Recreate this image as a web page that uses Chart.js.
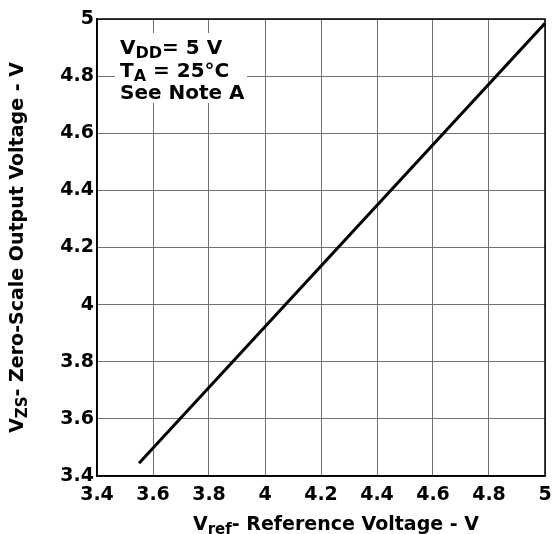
<!DOCTYPE html>
<html>
<head>
<meta charset="utf-8">
<script src="https://cdn.jsdelivr.net/npm/chart.js@4"></script>
<style>
  html, body { margin: 0; padding: 0; background: #fff; }
  #wrap { width: 557px; height: 534px; }
</style>
</head>
<body>
<div id="wrap"><canvas id="chart" width="557" height="534"></canvas></div>
<script>
// data
const vRef = [3.55, 5.0];
const vZS = [3.445, 4.985];
const tickVals = [3.4, 3.6, 3.8, 4, 4.2, 4.4, 4.6, 4.8, 5];

const FONT = "'DejaVu Sans', sans-serif";

// draw a row of [text, isSub] pieces starting at x
function drawPieces(ctx, pieces, x, y, size, subSize) {
  pieces.forEach(p => {
    ctx.font = `bold ${p[1] ? subSize : size}px ${FONT}`;
    ctx.fillText(p[0], x, y + (p[1] ? 4 : 0));
    x += ctx.measureText(p[0]).width;
  });
  return x;
}
function piecesWidth(ctx, pieces, size, subSize) {
  let w = 0;
  pieces.forEach(p => {
    ctx.font = `bold ${p[1] ? subSize : size}px ${FONT}`;
    w += ctx.measureText(p[0]).width;
  });
  return w;
}

const xTitle = [["V", 0], ["ref", 1], ["- Reference Voltage - V", 0]];
const yTitle = [["V", 0], ["ZS", 1], ["- Zero-Scale Output Voltage - V", 0]];
const note = [
  [["V", 0], ["DD", 1], ["= 5 V", 0]],
  [["T", 0], ["A", 1], [" = 25°C", 0]],
  [["See Note A", 0]]
];

const textPlugin = {
  id: "texts",
  afterDraw(chart) {
    const ctx = chart.ctx;
    const a = chart.chartArea;
    ctx.save();
    ctx.fillStyle = "#000";
    ctx.textBaseline = "alphabetic";
    ctx.textAlign = "left";

    // note box
    ctx.fillStyle = "#fff";
    ctx.fillRect(a.left + 18, a.top + 14, 132, 70);
    ctx.fillStyle = "#000";
    note.forEach((row, i) => {
      drawPieces(ctx, row, a.left + 23, a.top + 35 + i * 22.5, 20, 16);
    });

    // x title
    let w = piecesWidth(ctx, xTitle, 19, 15);
    drawPieces(ctx, xTitle, 336 - w / 2, 530, 19, 15);

    // y title
    w = piecesWidth(ctx, yTitle, 19, 15);
    ctx.translate(23, (a.top + a.bottom) / 2);
    ctx.rotate(-Math.PI / 2);
    drawPieces(ctx, yTitle, -w / 2, 0, 19, 15);
    ctx.restore();
  }
};

new Chart(document.getElementById("chart"), {
  type: "scatter",
  data: {
    datasets: [{
      data: vRef.map((x, i) => ({ x, y: vZS[i] })),
      showLine: true,
      borderColor: "#000",
      borderWidth: 3,
      pointRadius: 0
    }]
  },
  options: {
    responsive: false,
    animation: false,
    layout: { padding: { top: 19, right: 12, left: 0, bottom: 0 } },
    plugins: { legend: { display: false }, tooltip: { enabled: false } },
    scales: {
      x: {
        type: "linear",
        min: 3.4,
        max: 5,
        afterBuildTicks: s => { s.ticks = tickVals.map(v => ({ value: v })); },
        afterFit: s => { s.height = 58; s.paddingRight = 0; },
        ticks: {
          color: "#000",
          font: { family: FONT, size: 19, weight: "bold" },
          padding: 8,
          maxRotation: 0,
          callback: v => String(Math.round(v * 10) / 10)
        },
        grid: { color: "#707070", lineWidth: 1, tickLength: 0 },
        border: { color: "#000", width: 1.5 }
      },
      y: {
        type: "linear",
        min: 3.4,
        max: 5,
        afterBuildTicks: s => { s.ticks = tickVals.map(v => ({ value: v })); },
        afterFit: s => { s.width = 97; },
        ticks: {
          color: "#000",
          font: { family: FONT, size: 19, weight: "bold" },
          padding: 3,
          callback: v => String(Math.round(v * 10) / 10)
        },
        grid: { color: "#707070", lineWidth: 1, tickLength: 0 },
        border: { color: "#000", width: 1.5 }
      }
    }
  },
  plugins: [textPlugin, {
    id: "frame",
    afterDatasetsDraw(chart) {
      const a = chart.chartArea, ctx = chart.ctx;
      ctx.save();
      ctx.strokeStyle = "#000";
      ctx.lineWidth = 1.5;
      ctx.strokeRect(a.left, a.top, a.right - a.left, a.bottom - a.top);
      ctx.restore();
    }
  }]
});
</script>
</body>
</html>
